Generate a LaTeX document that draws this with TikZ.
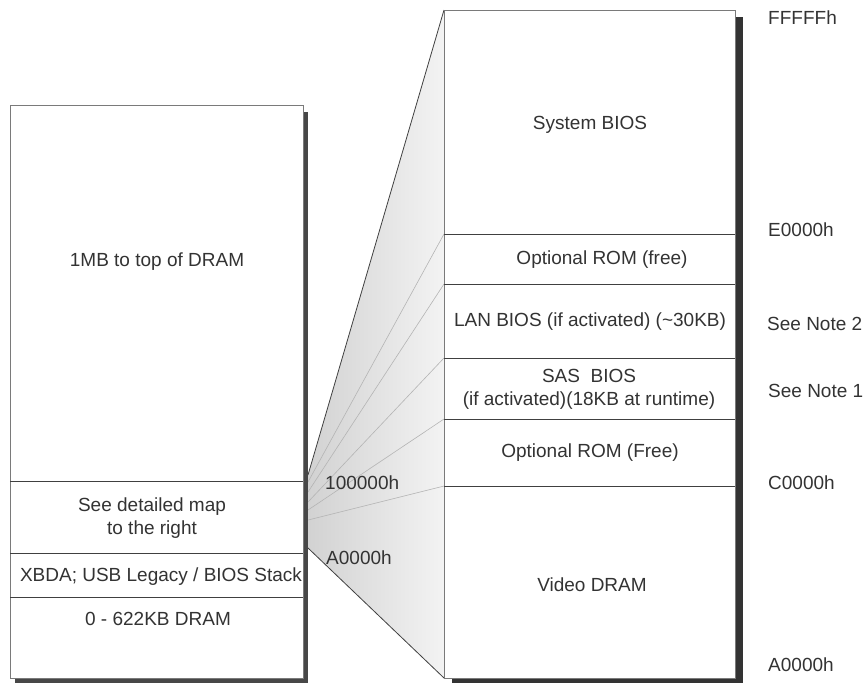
\documentclass[tikz,border=0pt]{standalone}
\usepackage{fontspec}
\setmainfont{Liberation Sans}
\definecolor{txt}{HTML}{333333}
\definecolor{fanL}{HTML}{D2D2D2}
\definecolor{fanR}{HTML}{F3F3F3}
\definecolor{shadowL}{HTML}{474747}
\definecolor{shadowR}{HTML}{333333}
\definecolor{outline}{HTML}{7A7A7A}
\definecolor{divider}{HTML}{404040}
\definecolor{fanln}{HTML}{B4B4B4}
\tikzset{
  lbl/.style={font=\fontsize{19}{23}\selectfont, text=txt, inner sep=0pt, align=center},
  addr/.style={lbl, anchor=west},
  boxframe/.style={draw=outline, line width=1pt, fill=white},
  divline/.style={draw=divider, line width=0.8pt},
  fanline/.style={draw=fanln, line width=0.6pt},
  fanedge/.style={draw=divider, line width=0.8pt},
}
\begin{document}
\begin{tikzpicture}[x=1pt,y=-1pt]
\useasboundingbox (0,0) rectangle (868,683);

% coordinates for the fan
\coordinate (ft) at (308,475);
\coordinate (fb) at (308,548);
\coordinate (f1) at (308,482);
\coordinate (f2) at (308,492);
\coordinate (f3) at (308,502);
\coordinate (f4) at (308,510);
\coordinate (f5) at (308,520);
\coordinate (rt) at (444,10);
\coordinate (rb) at (444,678);
\coordinate (d1) at (444,234);
\coordinate (d2) at (444,284);
\coordinate (d3) at (444,358);
\coordinate (d4) at (444,419);
\coordinate (d5) at (444,486);

% fan
\shade[left color=fanL, right color=fanR] (ft) -- (rt) -- (rb) -- (fb) -- cycle;
\draw[fanline] (f1) -- (d1);
\draw[fanline] (f2) -- (d2);
\draw[fanline] (f3) -- (d3);
\draw[fanline] (f4) -- (d4);
\draw[fanline] (f5) -- (d5);
\draw[fanedge] (ft) -- (rt);
\draw[fanedge] (fb) -- (rb);

% shadows
\fill[shadowL] (303,112) rectangle (308,683);
\fill[shadowL] (15,678) rectangle (308,683);
\fill[shadowR] (735,17) rectangle (743,683);
\fill[shadowR] (452,678) rectangle (743,683);

% left box
\draw[boxframe] (10,105) rectangle (303,678);
\draw[divline] (10,481) -- (303,481);
\draw[divline] (10,553) -- (303,553);
\draw[divline] (10,597) -- (303,597);

% right box
\draw[boxframe] (444,10) rectangle (735,678);
\draw[divline] (d1) -- (735,234);
\draw[divline] (d2) -- (735,284);
\draw[divline] (d3) -- (735,358);
\draw[divline] (d4) -- (735,419);
\draw[divline] (d5) -- (735,486);

% left texts
\node[lbl] (top) at (157,262) {1MB to top of DRAM};
\node[lbl] (see) at (152,518) {See detailed map\\to the right};
\node[lbl] (xbda) at (161,577) {XBDA; USB Legacy / BIOS Stack};
\node[lbl] (low) at (158,619) {0 - 622KB DRAM};

% right texts
\node[lbl] (sys) at (590,125) {System BIOS};
\node[lbl] (opt1) at (602,260) {Optional ROM (free)};
\node[lbl] (lan) at (590,322) {LAN BIOS (if activated) (\textasciitilde30KB)};
\node[lbl] (sas) at (589,389) {SAS\ \ BIOS\\(if activated)(18KB at runtime)};
\node[lbl] (opt2) at (590,453) {Optional ROM (Free)};
\node[lbl] (vid) at (592,585) {Video DRAM};

% fan address labels
\node[addr] (a100) at (325,483) {100000h};
\node[addr] (aA0l) at (326,558) {A0000h};

% right address labels
\node[addr] (aF) at (768,18) {FFFFFh};
\node[addr] (aE) at (768,230) {E0000h};
\node[addr] (n2) at (767,324) {See Note 2};
\node[addr] (n1) at (768,391) {See Note 1};
\node[addr] (aC) at (768,483) {C0000h};
\node[addr] (aA) at (768,665) {A0000h};
\end{tikzpicture}
\end{document}
